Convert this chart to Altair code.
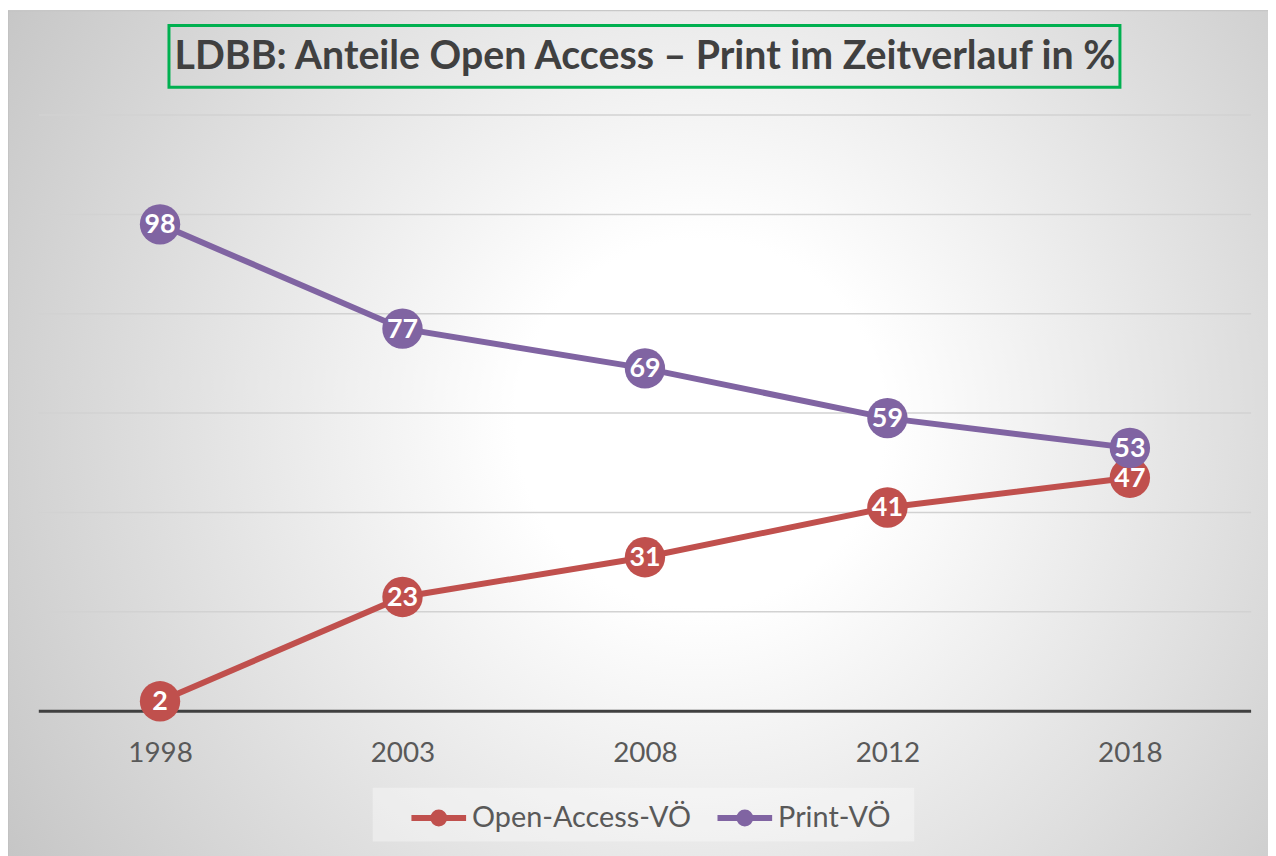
import altair as alt
import pandas as pd

# ---- data ----
years = ["1998", "2003", "2008", "2012", "2018"]
open_access = [2, 23, 31, 41, 47]
print_vo = [98, 77, 69, 59, 53]
series_names = ["Open-Access-VÖ", "Print-VÖ"]
series_colors = ["#c0504d", "#8064a2"]
title_text = "LDBB: Anteile Open Access – Print im Zeitverlauf in %"
grid_values = [20, 40, 60, 80, 100, 120]

rows = []
for name, vals in zip(series_names, [open_access, print_vo]):
    for yr, v in zip(years, vals):
        rows.append({"Jahr": yr, "Wert": v, "Reihe": name})
df = pd.DataFrame(rows)
grid_df = pd.DataFrame({"Wert": grid_values})
base_df = pd.DataFrame({"Wert": [0]})

W, H = 1220, 600
PAD_L, PAD_T, PAD_R, PAD_B = 31, 105, 17, 143
FONT = "Lato"

one = pd.DataFrame({"t": [title_text]})

y_scale = alt.Scale(domain=[0, 120], nice=False)

# background with radial gradient (chart area)
bg = alt.Chart(one).mark_rect(
    fill={
        "gradient": "radial",
        "x1": 0.546, "y1": 0.49, "r1": 0.0,
        "x2": 0.546, "y2": 0.49, "r2": 0.66,
        "stops": [
            {"offset": 0.0, "color": "#ffffff"},
            {"offset": 0.22, "color": "#ffffff"},
            {"offset": 1.0, "color": "#c4c4c4"},
        ],
    },
    stroke="#bdbdbd",
    strokeWidth=1,
).encode(
    x=alt.value(-PAD_L), x2=alt.value(W + PAD_R + 8),
    y=alt.value(-PAD_T), y2=alt.value(H + PAD_B + 8),
)

# title box + title text
title_box = alt.Chart(one).mark_rect(
    fillOpacity=0, stroke="#00b050", strokeWidth=3
).encode(
    x=alt.value(131), x2=alt.value(1088), y=alt.value(-90), y2=alt.value(-28)
)
title = alt.Chart(one).mark_text(
    font=FONT, fontSize=39.5, fontWeight="bold", color="#404040",
    align="center", baseline="middle"
).encode(text="t:N", x=alt.value(W / 2), y=alt.value(-58))

# legend background box
legend_box = alt.Chart(one).mark_rect(
    fill="#ffffff", fillOpacity=0.35
).encode(
    x=alt.value(336), x2=alt.value(881), y=alt.value(677), y2=alt.value(731)
)

# gridlines and baseline
grid = alt.Chart(grid_df).mark_rule(color="#d2d2d2", strokeWidth=1.5).encode(
    y=alt.Y("Wert:Q", scale=y_scale, axis=None),
    x=alt.value(0), x2=alt.value(W),
)
baseline = alt.Chart(base_df).mark_rule(color="#404040", strokeWidth=3).encode(
    y=alt.Y("Wert:Q", scale=y_scale, axis=None),
    x=alt.value(0), x2=alt.value(W),
)

x_enc = alt.X(
    "Jahr:O",
    scale=alt.Scale(type="point", padding=0.5),
    axis=alt.Axis(
        title=None, labelAngle=0, labelFont=FONT, labelFontSize=28,
        labelColor="#595959", ticks=False, tickSize=0, labelPadding=29,
        domain=False, grid=False, zindex=1,
    ),
)
y_enc = alt.Y("Wert:Q", scale=y_scale, axis=None)
color_enc = alt.Color(
    "Reihe:N",
    scale=alt.Scale(domain=series_names, range=series_colors),
    legend=alt.Legend(
        title=None, orient="none", legendX=372, legendY=677,
        direction="horizontal",
        symbolType="M-1,0H1M-0.2,0A0.2,0.2,0,1,0,0.2,0A0.2,0.2,0,1,0,-0.2,0Z",
        symbolSize=3025, symbolStrokeWidth=6,
        labelFont=FONT, labelFontSize=29, labelColor="#595959",
        labelOffset=3, columnPadding=14, padding=0, labelLimit=0,
    ),
)

base = alt.Chart(df)
lines = base.mark_line(strokeWidth=6).encode(x=x_enc, y=y_enc, color=color_enc)
points = base.mark_circle(size=1650, opacity=1).encode(x=x_enc, y=y_enc, color=color_enc)
labels = base.mark_text(
    font=FONT, fontSize=27, fontWeight="bold", color="white",
    align="center", baseline="middle", dy=1
).encode(x=x_enc, y=y_enc, text="Wert:Q")

chart = alt.layer(
    bg, title_box, title, legend_box, grid, baseline, lines, points, labels
).properties(
    width=W, height=H,
    padding={"left": PAD_L, "top": PAD_T, "right": PAD_R, "bottom": PAD_B},
    autosize=alt.AutoSizeParams(type="none"),
).configure_view(stroke=None)

chart.save("out.html", embed_options={"renderer": "svg", "actions": False})
